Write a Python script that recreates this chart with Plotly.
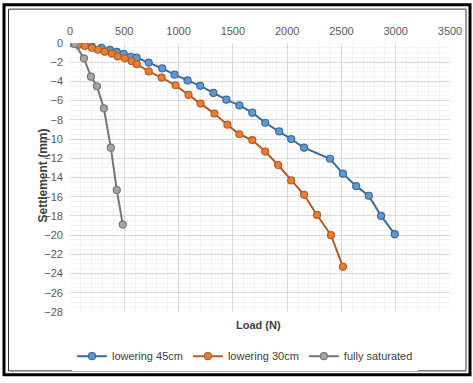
import plotly.graph_objects as go

# Data
load_45 = [0, 60, 130, 200, 290, 367, 431, 495, 560, 614, 725, 850, 963, 1083, 1199, 1321, 1440, 1560, 1679, 1798, 1927, 2037, 2156, 2395, 2514, 2636, 2752, 2865, 2991]
settle_45 = [0, -0.1, -0.2, -0.35, -0.5, -0.71, -0.92, -1.12, -1.43, -1.53, -2.04, -2.65, -3.3, -3.9, -4.46, -5.2, -5.9, -6.5, -7.25, -8.3, -9.2, -10.0, -10.9, -12.05, -13.6, -14.9, -15.9, -18.0, -19.9]

load_30 = [0, 73, 138, 202, 257, 321, 385, 440, 505, 569, 615, 725, 844, 972, 1092, 1202, 1330, 1450, 1560, 1679, 1798, 1917, 2037, 2156, 2275, 2404, 2514]
settle_30 = [0, -0.2, -0.3, -0.5, -0.7, -0.9, -1.1, -1.4, -1.6, -1.9, -2.2, -2.96, -3.6, -4.4, -5.4, -6.3, -7.35, -8.5, -9.5, -10.1, -11.3, -12.7, -14.3, -15.8, -17.9, -20.0, -23.3]

load_sat = [0, 15, 30, 45, 128, 193, 248, 312, 376, 431, 486]
settle_sat = [0, 0, -0.05, -0.1, -1.6, -3.5, -4.5, -6.8, -10.9, -15.3, -18.9]

series_names = ["lowering 45cm", "lowering 30cm", "fully saturated"]
x_ticks = [0, 500, 1000, 1500, 2000, 2500, 3000, 3500]
y_ticks = list(range(0, -30, -2))

line_cols = ["#3c6a98", "#b35d26", "#767676"]
fill_cols = ["#5B9BD5", "#ED7D31", "#A5A5A5"]

fig = go.Figure()
for xs, ys, name, lc, fc in zip([load_45, load_30, load_sat], [settle_45, settle_30, settle_sat],
                                series_names, line_cols, fill_cols):
    fig.add_trace(go.Scatter(
        x=xs, y=ys, name=name, mode="lines+markers",
        line=dict(color=lc, width=2),
        marker=dict(size=7, color=fc, line=dict(color=lc, width=1.2)),
    ))

W, H = 473, 383
L, R, T, B = 70, 23, 43, 66
pw, ph = W - L - R, H - T - B

def px(x):
    return (x - L) / pw

def py(y):
    return (H - B - y) / ph

font_fam = "Liberation Sans, Arial, sans-serif"
fig.update_layout(
    width=W, height=H,
    margin=dict(l=L, r=R, t=T, b=B),
    paper_bgcolor="white", plot_bgcolor="white",
    font=dict(family=font_fam, size=11, color="#595959"),
    showlegend=True,
    legend=dict(orientation="h", x=px(245), xanchor="center", y=py(362), yanchor="middle",
                font=dict(size=11, color="#404040"), itemwidth=30, tracegroupgap=0),
    xaxis=dict(range=[0, 3500], side="top", tickvals=x_ticks, showline=False, zeroline=False,
               gridcolor="#d9d9d9", gridwidth=1, ticks="", ticklabelstandoff=5,
               minor=dict(dtick=100, showgrid=True, gridcolor="#f1f1f1")),
    yaxis=dict(range=[-28, 0], tickvals=y_ticks, showline=False, zeroline=False,
               gridcolor="#d9d9d9", gridwidth=1, ticks="", ticklabelstandoff=6,
               minor=dict(dtick=0.5, showgrid=True, gridcolor="#f3f3f3")),
    annotations=[
        dict(text="<b>Load (N)</b>", x=px(258), y=py(338), xref="paper", yref="paper",
             showarrow=False, font=dict(size=11, color="#404040")),
        dict(text="<b>Settlement (mm)</b>", x=px(34), y=py(178), xref="paper", yref="paper",
             showarrow=False, textangle=-90, font=dict(size=12, color="#404040")),
    ],
    shapes=[
        dict(type="rect", xref="paper", yref="paper", x0=px(4), x1=px(470), y0=py(381), y1=py(4),
             line=dict(color="black", width=3)),
        dict(type="rect", xref="paper", yref="paper", x0=px(8.5), x1=px(466), y0=py(377), y1=py(8.5),
             line=dict(color="#333333", width=1)),
    ],
)

fig.write_html("out.html")
